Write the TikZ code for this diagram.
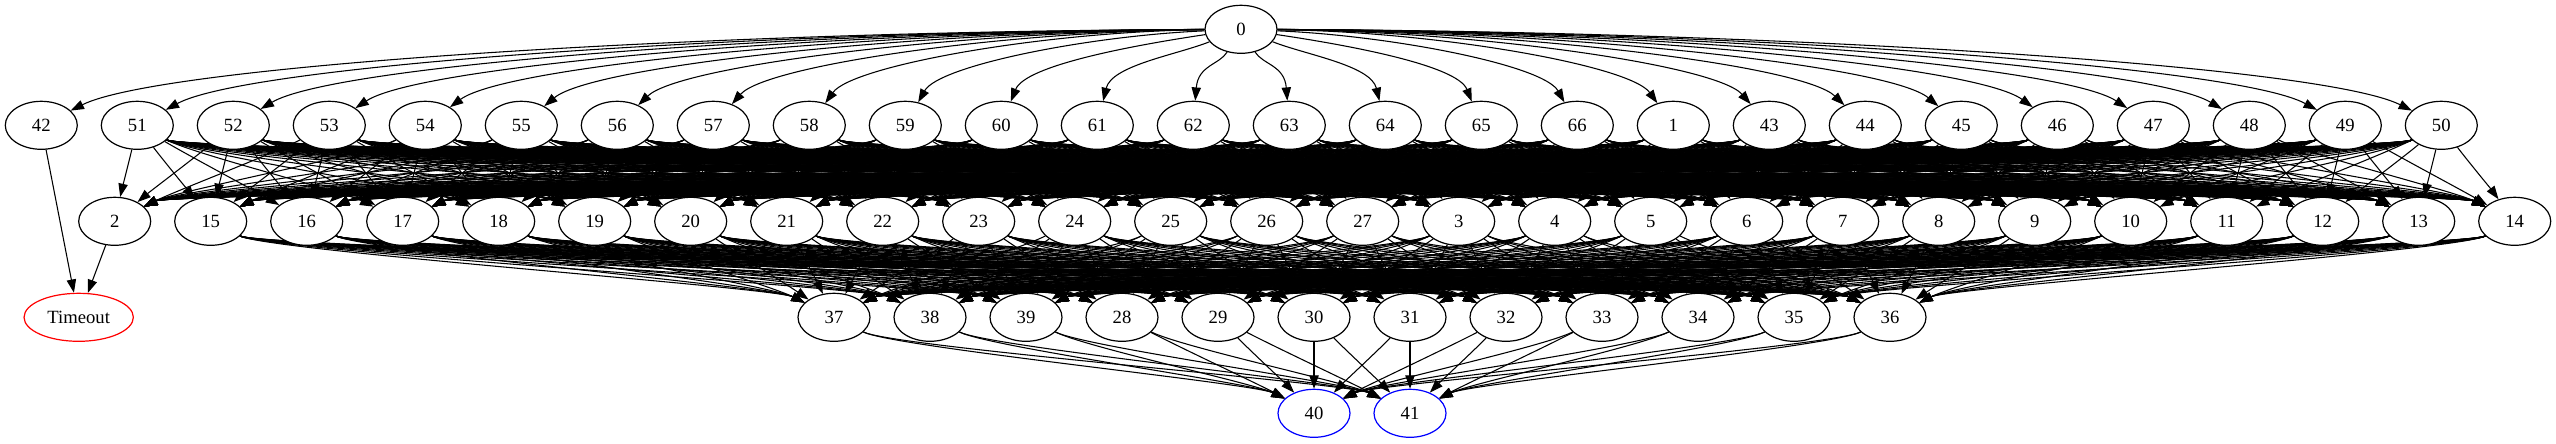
\documentclass[tikz,border=0pt]{standalone}
\usepackage{fontspec}
\setmainfont{Liberation Serif}
\usetikzlibrary{shapes.geometric,arrows.meta,calc,backgrounds}
\begin{document}
\begin{tikzpicture}[x=0.75pt,y=-0.75pt,
  st/.style={ellipse,draw,fill=white,line width=0.9pt,minimum width=54pt,minimum height=36pt,inner sep=0pt,font=\fontsize{14}{16}\selectfont},
  edge/.style={line width=0.8pt,-{Triangle[length=10pt,width=7pt]}}]
\useasboundingbox (0,0) rectangle (2556,443);
% nodes
\node[st] (n0) at (1241,29.3) {0};
\foreach \n [count=\i from 0] in {42,51,52,53,54,55,56,57,58,59,60,61,62,63,64,65,66,1,43,44,45,46,47,48,49,50}
  \node[st] (n\n) at ({41.3+96*\i},125.3) {\n};
\foreach \n [count=\i from 0] in {2,15,16,17,18,19,20,21,22,23,24,25,26,27,3,4,5,6,7,8,9,10,11,12,13,14}
  \node[st] (n\n) at ({114.7+96*\i},221.3) {\n};
\foreach \n [count=\i from 0] in {37,38,39,28,29,30,31,32,33,34,35,36}
  \node[st] (n\n) at ({834+96*\i},317.3) {\n};
\node[st,draw=red,minimum width=82pt] (nT) at (78.7,317.3) {Timeout};
\node[st,draw=blue] (n40) at (1314,413.3) {40};
\node[st,draw=blue] (n41) at (1410,413.3) {41};
\begin{pgfonlayer}{background}
% 0 -> rank 1
\foreach \n [count=\i from 0] in {42,51,52,53,54,55,56,57,58,59,60,61,62,63,64,65,66,1,43,44,45,46,47,48,49,50}{
  \pgfmathsetmacro\dx{41.3+96*\i-1241}
  \pgfmathsetmacro\ca{0.45*\dx}
  \pgfmathsetmacro\cb{max(2,40-0.1*abs(\dx))}
  \pgfmathsetmacro\cc{-0.1*\dx}
  \draw[edge] (n0) .. controls ($(n0)+(\ca,\cb)$) and ($(n\n)+(\cc,-60)$) .. (n\n);
}
% rank 1 -> rank 2
\foreach \s [count=\i from 1] in {51,52,53,54,55,56,57,58,59,60,61,62,63,64,65,66,1,43,44,45,46,47,48,49,50}{
  \foreach \t [count=\j from 0] in {2,15,16,17,18,19,20,21,22,23,24,25,26,27,3,4,5,6,7,8,9,10,11,12,13,14}{
    \pgfmathsetmacro\dx{(114.7+96*\j)-(41.3+96*\i)}
    \pgfmathsetmacro\h{sign(\dx)*min(0.3*abs(\dx),60)}
    \draw[edge] (n\s) .. controls ($(n\s)+(\h,30)$) and ($(n\t)+(-\h,-30)$) .. (n\t);
  }
}
% rank 2 -> rank 3
\foreach \s [count=\i from 1] in {15,16,17,18,19,20,21,22,23,24,25,26,27,3,4,5,6,7,8,9,10,11,12,13,14}{
  \foreach \t [count=\j from 0] in {37,38,39,28,29,30,31,32,33,34,35,36}{
    \pgfmathsetmacro\dx{(834+96*\j)-(114.7+96*\i)}
    \pgfmathsetmacro\h{sign(\dx)*min(0.3*abs(\dx),60)}
    \draw[edge] (n\s) .. controls ($(n\s)+(\h,30)$) and ($(n\t)+(-\h,-30)$) .. (n\t);
  }
}
% rank 3 -> 40, 41
\foreach \s [count=\i from 0] in {37,38,39,28,29,30,31,32,33,34,35,36}{
  \foreach \t/\tx in {40/1314,41/1410}{
    \pgfmathsetmacro\dx{\tx-(834+96*\i)}
    \pgfmathsetmacro\h{sign(\dx)*min(0.3*abs(\dx),60)}
    \draw[edge] (n\s) .. controls ($(n\s)+(\h,30)$) and ($(n\t)+(-\h,-30)$) .. (n\t);
  }
}
\draw[edge] (n42) -- (nT);
\draw[edge] (n2) -- (nT);
\end{pgfonlayer}
\end{tikzpicture}
\end{document}
